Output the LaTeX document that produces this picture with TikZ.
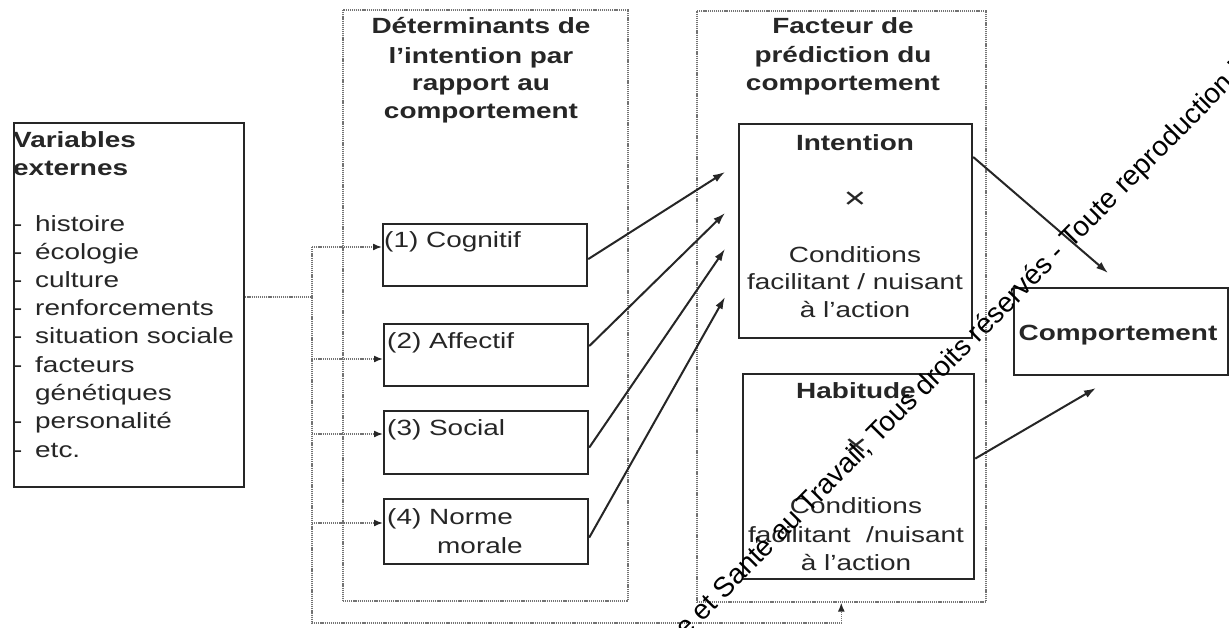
\documentclass[tikz,border=0pt]{standalone}
\usepackage{fontspec}
\setmainfont{Liberation Sans}[FakeStretch=1.27]
\newfontfamily\wmfont{Liberation Sans}
\usetikzlibrary{arrows.meta}
\begin{document}
\begin{tikzpicture}[x=1pt,y=-1pt,
  solidbox/.style={draw=black!85, line width=2.2pt, inner sep=0pt, anchor=north west},
  dotbox/.style={draw=black!55, line width=1.6pt, dash pattern=on 1.2pt off 0.9pt, inner sep=0pt, anchor=north west},
  dotline/.style={draw=black!55, line width=1.6pt, dash pattern=on 1.2pt off 0.9pt},
  dotarrow/.style={dotline, -{Latex[length=9pt,width=7pt,color=black!85]}},
  solidarrow/.style={draw=black!85, line width=2pt, -{Latex[length=12pt,width=8pt]}},
  txt/.style={inner sep=0pt, text=black!85, font=\fontsize{22}{26}\selectfont},
  btxt/.style={inner sep=0pt, text=black!85, font=\fontsize{22}{26}\selectfont\bfseries},
  cross/.style={inner sep=0pt, text=black!85, font=\fontsize{30}{32}\selectfont},
  wm/.style={inner sep=0pt, text=black, font=\wmfont\fontsize{28}{31}\selectfont},
]
\fill[white] (0,0) rectangle (1229,627);
\useasboundingbox (0,0) rectangle (1229,627);

% boxes
\node[solidbox, minimum width=230pt, minimum height=364pt] (var) at (13,122) {};
\node[dotbox, minimum width=285pt, minimum height=591pt] (det) at (342,9) {};
\node[dotbox, minimum width=289pt, minimum height=591pt] (fac) at (696,10) {};
\node[solidbox, minimum width=204pt, minimum height=62pt] (cog) at (382,223) {};
\node[solidbox, minimum width=204pt, minimum height=62pt] (aff) at (383,323) {};
\node[solidbox, minimum width=204pt, minimum height=63pt] (soc) at (383,410) {};
\node[solidbox, minimum width=204pt, minimum height=65pt] (nor) at (383,498) {};
\node[solidbox, minimum width=233pt, minimum height=214pt] (int) at (738,123) {};
\node[solidbox, minimum width=231pt, minimum height=205pt] (hab) at (742,373) {};
\node[solidbox, minimum width=214pt, minimum height=87pt] (comp) at (1013,287) {};

% Variables externes
\node[btxt, anchor=base west] (vt1) at (13,147) {Variables};
\node[btxt, anchor=base west] (vt2) at (13,175) {externes};
\foreach \w/\yy/\d [count=\i] in {histoire/231/1, écologie/259/1, culture/287/1, renforcements/315/1, situation sociale/343/1, facteurs/372/1, génétiques/400/0, personalité/428/1, etc./457/1}{
  \node[txt, anchor=base west] (li\i) at (35,\yy) {\w};
  \ifnum\d=1 \node[txt, anchor=base west] (ld\i) at (13,\yy) {-};\fi
}

% Determinants title
\node[btxt, anchor=base] (dt1) at (481,33) {Déterminants de};
\node[btxt, anchor=base] (dt2) at (481,63) {l’intention par};
\node[btxt, anchor=base] (dt3) at (481,90) {rapport au};
\node[btxt, anchor=base] (dt4) at (481,118) {comportement};

% Facteur title
\node[btxt, anchor=base] (ft1) at (843,33) {Facteur de};
\node[btxt, anchor=base] (ft2) at (843,62) {prédiction du};
\node[btxt, anchor=base] (ft3) at (843,90) {comportement};

% inner boxes text
\node[txt, anchor=base west] (cogt) at (384,247) {(1) Cognitif};
\node[txt, anchor=base west] (afft) at (387,348) {(2) Affectif};
\node[txt, anchor=base west] (soct) at (387,435) {(3) Social};
\node[txt, anchor=base west] (nort1) at (387,524) {(4) Norme};
\node[txt, anchor=base west] (nort2) at (437,553) {morale};

% Intention
\node[btxt, anchor=base] (it1) at (855,150) {Intention};
\node[cross] (it2) at (855,200) {×};
\node[txt, anchor=base] (it3) at (855,262) {Conditions};
\node[txt, anchor=base] (it4) at (855,289) {facilitant / nuisant};
\node[txt, anchor=base] (it5) at (855,317) {à l’action};

% Habitude
\node[btxt, anchor=base] (ht1) at (856,398) {Habitude};
\node[cross] (ht2) at (856,447) {×};
\node[txt, anchor=base] (ht3) at (856,513) {Conditions};
\node[txt, anchor=base] (ht4) at (856,542) {facilitant \ /nuisant};
\node[txt, anchor=base] (ht5) at (856,570) {à l’action};

% Comportement
\node[btxt, anchor=base] (compt) at (1118,340) {Comportement};

% dotted connectors
\coordinate (jn) at (312,297);
\coordinate (vtop) at (312,247);
\coordinate (vbot) at (312,623);
\coordinate (a2) at (312,359);
\coordinate (a3) at (312,434);
\coordinate (a4) at (312,523);
\draw[dotline] (var.east |- jn) -- (jn);
\draw[dotarrow] (vtop) -- (vbot) -- (vbot -| fac.south) -- (fac.south);
\draw[dotarrow] (vtop) -- (vtop -| cog.west);
\draw[dotarrow] (a2) -- (a2 -| aff.west);
\draw[dotarrow] (a3) -- (a3 -| soc.west);
\draw[dotarrow] (a4) -- (a4 -| nor.west);

% solid arrows
\coordinate (t1) at (725,172);
\coordinate (t2) at (725,213);
\coordinate (t3) at (725,249);
\coordinate (t4) at (725,297);
\coordinate (t5) at (1108,273);
\coordinate (t6) at (1096,388);
\draw[solidarrow] ([yshift=-4pt]cog.east) -- (t1);
\draw[solidarrow] ([yshift=9pt]aff.east) -- (t2);
\draw[solidarrow] ([yshift=-5pt]soc.east) -- (t3);
\draw[solidarrow] ([yshift=-6pt]nor.east) -- (t4);
\draw[solidarrow] ([yshift=-34pt]int.north east) -- (t5);
\draw[solidarrow] ([yshift=18pt]hab.east) -- (t6);

% watermark line
\node[wm, rotate=45.3, anchor=base west] (wmk) at (686,639) {e et Santé au Travail, Tous droits réservés - Toute reproduction i};
\end{tikzpicture}
\end{document}
